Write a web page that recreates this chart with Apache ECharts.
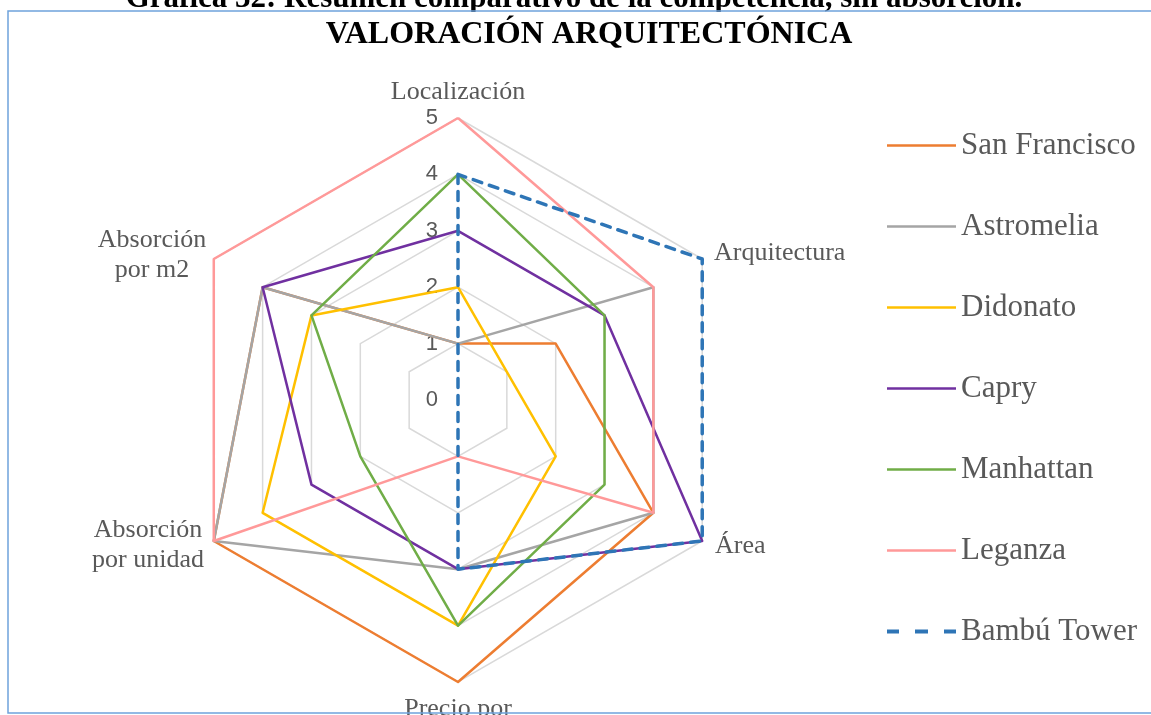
<!DOCTYPE html>
<html>
<head>
<meta charset="utf-8">
<title>Valoración arquitectónica</title>
<script src="https://cdn.jsdelivr.net/npm/echarts@6/dist/echarts.min.js"></script>
<style>
  html, body { margin: 0; padding: 0; background: #fff; }
  #chart { width: 1151px; height: 715px; }
</style>
</head>
<body>
<div id="chart"></div>
<script>
// categorías en el orden de Excel (sentido horario desde arriba)
const categories = ['Localización', 'Arquitectura', 'Área', 'Precio por', 'Absorción\npor unidad', 'Absorción\npor m2'];
const ringLabels = [0, 1, 2, 3, 4, 5];

const sanFrancisco = [1, 2, 4, 5, 5, 4];
const astromelia   = [1, 4, 4, 3, 5, 4];
const didonato     = [2, 1, 2, 4, 4, 3];
const capry        = [3, 3, 5, 3, 3, 4];
const manhattan    = [4, 3, 3, 4, 2, 3];
const leganza      = [5, 4, 4, 1, 5, 5];
const bambuTower   = [4, 5, 5, 3, 0, 0];

const seriesNames = ['San Francisco', 'Astromelia', 'Didonato', 'Capry', 'Manhattan', 'Leganza', 'Bambú Tower'];
const seriesData = [sanFrancisco, astromelia, didonato, capry, manhattan, leganza, bambuTower];
const colors = ['#ED7D31', '#A5A5A5', '#FFC000', '#7030A0', '#70AD47', '#FF9999', '#2E75B6'];

// ECharts recorre el radar en sentido antihorario: se invierte el resto
function toRadarOrder(arr) {
    return [arr[0]].concat(arr.slice(1).reverse());
}

const cx = 458, cy = 400, radius = 282;
const serif = '"Liberation Serif", "Times New Roman", serif';

const chart = echarts.init(document.getElementById('chart'));

const indicators = toRadarOrder(categories).map((name, i) => ({
    name: name,
    min: ringLabels[0],
    max: ringLabels[ringLabels.length - 1],
    axisLabel: { show: i === 0 }
}));

// nombres de los ejes, como en Excel (centrados verticalmente)
const nameSpots = [
    { x: 458, y: 92, align: 'center' },
    { x: 714, y: 253, align: 'left' },
    { x: 715, y: 546, align: 'left' },
    { x: 458, y: 709, align: 'center' },
    { x: 148, y: 545, align: 'center' },
    { x: 152, y: 255, align: 'center' }
];
const nameTexts = categories.map((name, i) => ({
    type: 'text',
    x: nameSpots[i].x,
    y: nameSpots[i].y,
    style: {
        text: name,
        font: '26px ' + serif,
        fill: '#595959',
        align: nameSpots[i].align,
        verticalAlign: 'middle',
        lineHeight: 30
    }
}));

// iconos de la leyenda: línea continua y discontinua
const lineIcon = 'path://M0,0h69v2.5h-69z';
const dashIcon = 'path://M0,0h12v4h-12z M28,0h13v4h-13z M57,0h12v4h-12z';

const option = {
    backgroundColor: '#fff',
    color: colors,
    animation: false,
    graphic: [
        {
            type: 'text',
            x: 574,
            y: -1,
            z: 90,
            style: {
                text: 'Gráfica 32: Resumen comparativo de la competencia, sin absorción.',
                font: 'bold 31px ' + serif,
                fill: '#000',
                align: 'center',
                verticalAlign: 'middle'
            }
        },
        {
            type: 'rect',
            z: 95,
            shape: { x: 9, y: 12, width: 1160, height: 8 },
            style: { fill: '#fff' }
        },
        {
            type: 'rect',
            z: 100,
            shape: { x: 8, y: 11, width: 1160, height: 702 },
            style: { fill: 'none', stroke: '#6FA3DC', lineWidth: 1.5 }
        },
        {
            type: 'text',
            x: 589,
            y: 35,
            z: 100,
            style: {
                text: 'VALORACIÓN ARQUITECTÓNICA',
                font: 'bold 32px ' + serif,
                fill: '#000',
                align: 'center',
                verticalAlign: 'middle'
            }
        }
    ].concat(nameTexts),
    legend: {
        orient: 'vertical',
        left: 882,
        top: 125,
        itemWidth: 69,
        itemHeight: 4,
        itemGap: 50,
        data: seriesNames.map((name, i) => ({ name: name, icon: i === 6 ? dashIcon : lineIcon })),
        textStyle: {
            fontFamily: serif,
            fontSize: 31,
            color: '#595959',
            lineHeight: 30
        }
    },
    radar: {
        center: [cx, cy],
        radius: radius,
        shape: 'polygon',
        splitNumber: 5,
        startAngle: 90,
        indicator: indicators,
        axisName: { show: false },
        axisLine: { show: false },
        axisTick: { show: false },
        axisLabel: {
            show: false,
            margin: 20,
            fontFamily: '"Liberation Sans", Arial, sans-serif',
            fontSize: 22,
            color: '#595959'
        },
        splitLine: { lineStyle: { color: '#D9D9D9', width: 1.5 } },
        splitArea: { show: false }
    },
    series: seriesNames.map((name, i) => ({
        type: 'radar',
        name: name,
        symbol: 'none',
        lineStyle: i === 6
            ? { color: colors[i], width: 3.5, type: [9, 8], cap: 'round' }
            : { color: colors[i], width: 2.5 },
        itemStyle: { color: colors[i] },
        data: [{ name: name, value: toRadarOrder(seriesData[i]) }]
    }))
};

chart.setOption(option);

window.addEventListener('resize', () => {
    chart.resize();
});
</script>
</body>
</html>
